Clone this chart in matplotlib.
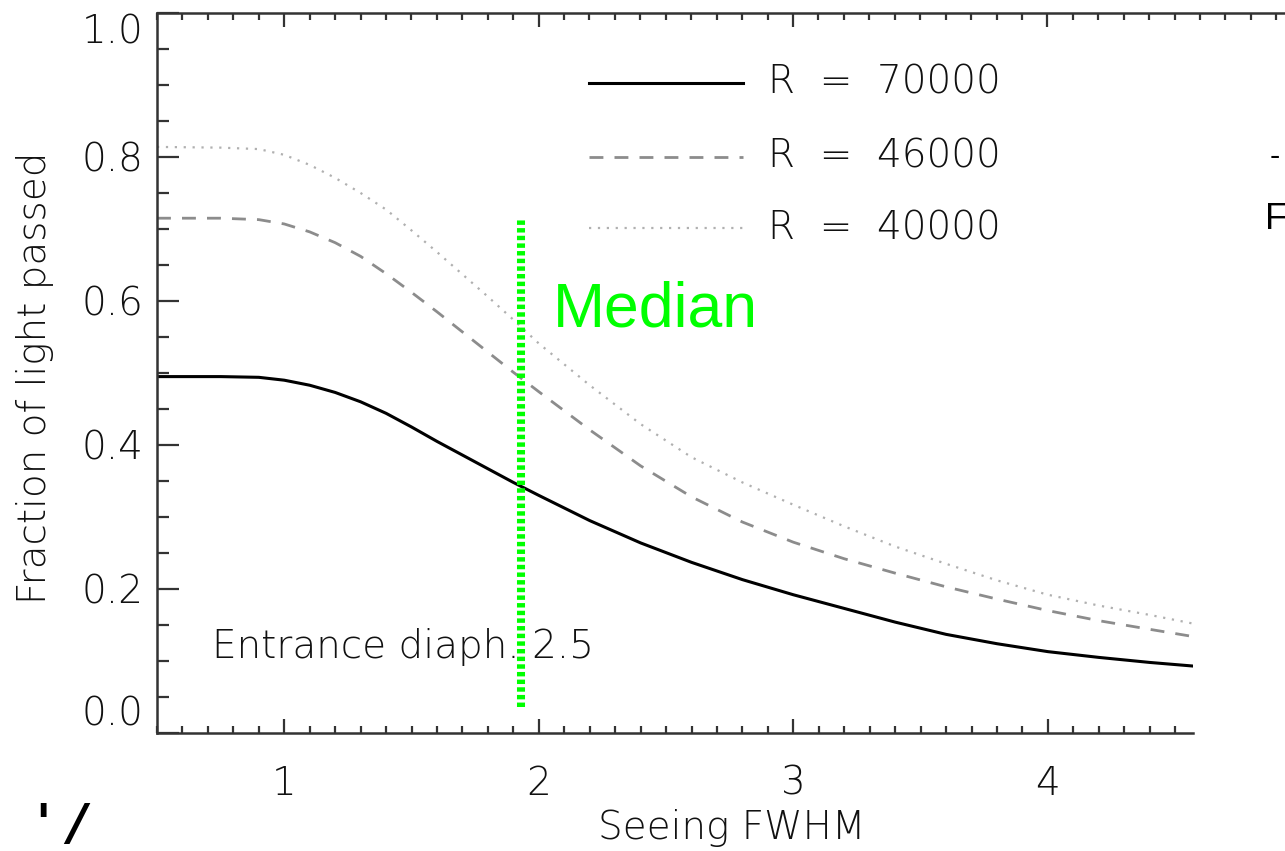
import numpy as np
import matplotlib
matplotlib.use("Agg")
import matplotlib.pyplot as plt
from matplotlib import font_manager
from matplotlib.ticker import MultipleLocator

# values
seeing = [0.5, 0.75, 0.9, 1.0, 1.1, 1.2, 1.3, 1.4, 1.5, 1.6, 1.7, 1.8, 1.9,
          2.0, 2.2, 2.4, 2.6, 2.8, 3.0, 3.2, 3.4, 3.6, 3.8, 4.0, 4.2, 4.4, 4.57]
r70000 = [0.495, 0.495, 0.494, 0.490, 0.483, 0.473, 0.460, 0.444, 0.425, 0.405,
          0.386, 0.367, 0.348, 0.330, 0.295, 0.264, 0.237, 0.213, 0.192, 0.173,
          0.154, 0.137, 0.124, 0.113, 0.105, 0.098, 0.093]
r46000 = [0.715, 0.715, 0.713, 0.707, 0.696, 0.681, 0.662, 0.638, 0.612, 0.585,
          0.557, 0.529, 0.501, 0.474, 0.421, 0.371, 0.328, 0.293, 0.265, 0.242,
          0.222, 0.203, 0.186, 0.170, 0.156, 0.144, 0.134]
r40000 = [0.814, 0.813, 0.811, 0.803, 0.789, 0.771, 0.750, 0.727, 0.698, 0.668,
          0.637, 0.606, 0.574, 0.541, 0.483, 0.429, 0.383, 0.348, 0.317, 0.287,
          0.259, 0.235, 0.212, 0.192, 0.177, 0.164, 0.152]
labels = ["R  =  70000", "R  =  46000", "R  =  40000"]
legend_y = [0.903, 0.800, 0.701]
legend_x = [2.198, 2.803]
median_x = 1.93
median_y = [0.036, 0.715]

xmin, xmax = 0.5, 4.57
axis_col = "#333333"
text_col = "#111111"
font = "DejaVu Sans"

# thin strokes like the IDL vector font, if a light cut is installed
weights = {f.weight for f in font_manager.fontManager.ttflist if f.name == font}
fw = 200 if (200 in weights or "extra light" in weights) else "normal"

fig = plt.figure(figsize=(12.85, 8.51), dpi=100)
L, R, B, T = 157 / 1285, 1193 / 1285, 1 - 733 / 851, 1 - 13 / 851
ax = fig.add_axes([L, B, R - L, T - B])

styles = [dict(color="black", lw=2.2, ls="-"),
          dict(color="#8c8c8c", lw=2.0, ls=(0, (5, 4))),
          dict(color="#b0b0b0", lw=1.6, ls=(0, (1, 3)))]
for ys, st, lab, ly in zip([r70000, r46000, r40000], styles, labels, legend_y):
    ax.plot(seeing, ys, **st)
    ax.plot(legend_x, [ly, ly], **st)
    ax.text(2.90, ly, lab, fontsize=28, family=font, weight=fw, color=text_col,
            va="center", ha="left")

ax.vlines(median_x, median_y[0], median_y[1], color="#00ff00", lw=5.8,
          linestyles=[(0, (0.55, 0.4))], zorder=5)
ax.text(2.057, 0.565, "Median", color="#00ff00", fontsize=45,
        family="Liberation Sans", ha="left", va="baseline")
ax.text(0.716, 0.119, "Entrance diaph. 2.5", fontsize=28, family=font, weight=fw,
        color=text_col, va="center", ha="left")

ax.set_xlim(xmin, xmax)
ax.set_ylim(0, 1)
ax.xaxis.set_minor_locator(MultipleLocator(0.1))
ax.yaxis.set_minor_locator(MultipleLocator(0.05))
ax.set_xticks([1, 2, 3, 4])
ax.set_xticklabels(["1", "2", "3", "4"], family=font, fontsize=28, weight=fw)
ax.set_yticks([0, 0.2, 0.4, 0.6, 0.8, 1.0])
ax.set_yticklabels(["0.0", "0.2", "0.4", "0.6", "0.8", "1.0"], family=font,
                   fontsize=28, weight=fw)
ax.tick_params(axis="x", which="major", direction="in", length=10, width=1.6,
               color=axis_col, pad=23, top=False)
ax.tick_params(axis="x", which="minor", direction="in", length=5, width=1.6,
               color=axis_col, top=False)
ax.tick_params(axis="y", which="major", direction="in", length=16, width=1.6,
               color=axis_col, pad=10, right=False)
ax.tick_params(axis="y", which="minor", direction="in", length=8.6, width=1.6,
               color=axis_col, right=False)
ax.tick_params(which="both", labelcolor=text_col)
for s in ["top", "right"]:
    ax.spines[s].set_visible(False)
for s in ["left", "bottom"]:
    ax.spines[s].set_color(axis_col)
    ax.spines[s].set_linewidth(1.8)

ticks = ax.yaxis.get_major_ticks()
ticks[0].label1.set_verticalalignment("bottom")
ticks[-1].label1.set_verticalalignment("top")

# top axis continues past the plot (cropped neighbour figure)
top_right = 1.2
top_xmax = xmin + (top_right - L) * 1285 / 254.4
axt = fig.add_axes([L, B, top_right - L, T - B], facecolor="none")
axt.set_xlim(xmin, top_xmax)
axt.set_ylim(0, 1)
axt.xaxis.set_major_locator(MultipleLocator(1))
axt.xaxis.set_minor_locator(MultipleLocator(0.1))
axt.tick_params(axis="x", which="major", direction="in", length=10, width=1.6,
                color=axis_col, top=True, bottom=False, labelbottom=False)
axt.tick_params(axis="x", which="minor", direction="in", length=5, width=1.6,
                color=axis_col, top=True, bottom=False)
axt.set_yticks([])
for s in ["left", "right", "bottom"]:
    axt.spines[s].set_visible(False)
axt.spines["top"].set_color(axis_col)
axt.spines["top"].set_linewidth(1.8)

fig.text(598 / 1285, 1 - 828 / 851, "Seeing FWHM", fontsize=28, family=font,
         weight=fw, ha="left", va="center", color=text_col)
fig.text(35 / 1285, 1 - 378 / 851, "Fraction of light passed", fontsize=28,
         family=font, weight=fw, rotation=90, ha="center", va="center",
         color=text_col)

# fragments of the neighbouring figure at the edges
fig.text(1265 / 1285, 1 - 220 / 851, "F", fontsize=26, family="Liberation Sans",
         ha="left", va="center")
fig.text(1270 / 1285, 1 - 157 / 851, "-", fontsize=22, family="Liberation Sans",
         ha="left", va="center")
fig.text(36 / 1285, 2 / 851, "' /", fontsize=36, family=font, weight="bold",
         style="italic", ha="left", va="bottom")

fig.savefig("out.png", dpi=100)
